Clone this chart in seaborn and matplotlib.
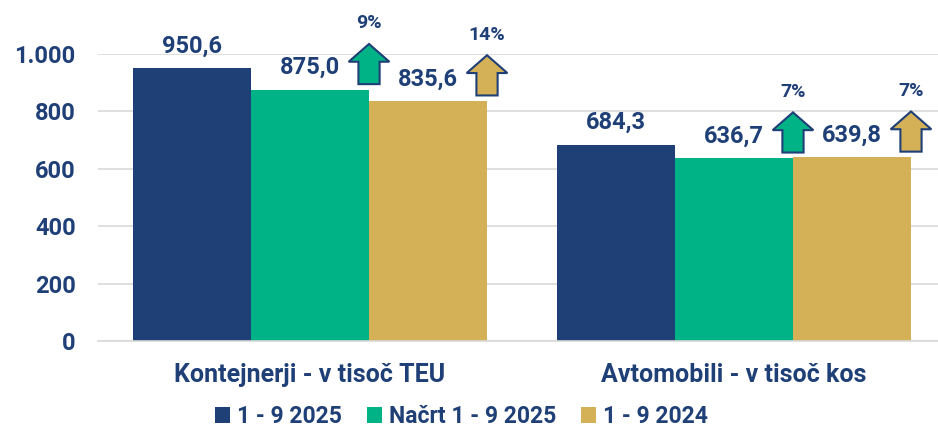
import pandas as pd
import seaborn as sns
from matplotlib import pyplot as plt
from matplotlib.patches import FancyArrow
from matplotlib.ticker import FuncFormatter

categories = ['Kontejnerji - v tisoč TEU', 'Avtomobili - v tisoč kos']
series = ['1 - 9 2025', 'Načrt 1 - 9 2025', '1 - 9 2024']
actual_2025 = [950.6, 684.3]
plan_2025 = [875.0, 636.7]
actual_2024 = [835.6, 639.8]
growth_vs_plan = ['9%', '7%']
growth_vs_2024 = ['14%', '7%']

NAVY = '#1F3F77'
GREEN = '#00B386'
GOLD = '#D4B057'

sns.set_theme(style='white')
plt.rcParams['font.family'] = ['Roboto', 'DejaVu Sans']
plt.rcParams['font.weight'] = 'bold'

df = pd.DataFrame({
    'kategorija': categories * 3,
    'serija': [s for s in series for _ in categories],
    'vrednost': actual_2025 + plan_2025 + actual_2024,
})

fig = plt.figure(figsize=(9.38, 4.32), dpi=100)
ax = fig.add_axes([0.1045, 0.2106, 0.904, 0.6644])

sns.barplot(data=df, x='kategorija', y='vrednost', hue='serija',
            palette=[NAVY, GREEN, GOLD], width=0.835, gap=0,
            saturation=1, linewidth=0, ax=ax, errorbar=None)

ax.set_ylim(0, 1000)
ax.set_xlim(-0.5, 1.5)
ax.set_yticks(range(0, 1001, 200))
ax.yaxis.set_major_formatter(FuncFormatter(lambda v, p: f'{int(v):,}'.replace(',', '.')))
ax.grid(axis='y', color='#D9D9D9', linewidth=1.2)
ax.set_axisbelow(True)
for side in ['left', 'top', 'right']:
    ax.spines[side].set_visible(False)
ax.spines['bottom'].set_color('#D9D9D9')
ax.spines['bottom'].set_linewidth(1.2)
ax.set_xlabel('')
ax.set_ylabel('')
ax.tick_params(axis='y', length=0, pad=16, labelsize=17, labelcolor=NAVY)
ax.tick_params(axis='x', length=0, pad=16, labelsize=18, labelcolor=NAVY)
ax.set_xticks([-0.5, 0.5, 1.5], minor=True)
ax.tick_params(axis='x', which='minor', length=6, color='#BFBFBF', width=1.2)

# value labels
for cont in ax.containers:
    for bar in cont:
        h = bar.get_height()
        ax.annotate(f'{h:.1f}'.replace('.', ','),
                    (bar.get_x() + bar.get_width() / 2, h),
                    xytext=(0, 16), textcoords='offset points',
                    ha='center', va='center', fontsize=17,
                    color=NAVY, fontweight='bold')

# growth arrows on the right edge of plan and 2024 bars
for cont, labels, fc in [(ax.containers[1], growth_vs_plan, GREEN),
                         (ax.containers[2], growth_vs_2024, GOLD)]:
    for bar, lab in zip(cont, labels):
        xr = bar.get_x() + bar.get_width()
        y0 = bar.get_height() + 20
        arr = FancyArrow(xr, y0, 0, 140, width=0.05, head_width=0.096,
                         head_length=62, length_includes_head=True,
                         facecolor=fc, edgecolor=NAVY, linewidth=1.5,
                         clip_on=False, zorder=5)
        ax.add_patch(arr)
        ax.text(xr, y0 + 140 + 72, lab, ha='center', va='center',
                fontsize=14, color=NAVY, fontweight='bold', clip_on=False)

leg = ax.legend(loc='center', bbox_to_anchor=(0.492, 0.036),
                bbox_transform=fig.transFigure, ncol=3, frameon=False,
                handlelength=0.65, handleheight=0.65, handletextpad=0.3,
                columnspacing=1.1, fontsize=16.5, borderpad=0.1)
for t in leg.get_texts():
    t.set_color(NAVY)
    t.set_fontweight('bold')

fig.savefig('out.png', dpi=100)
